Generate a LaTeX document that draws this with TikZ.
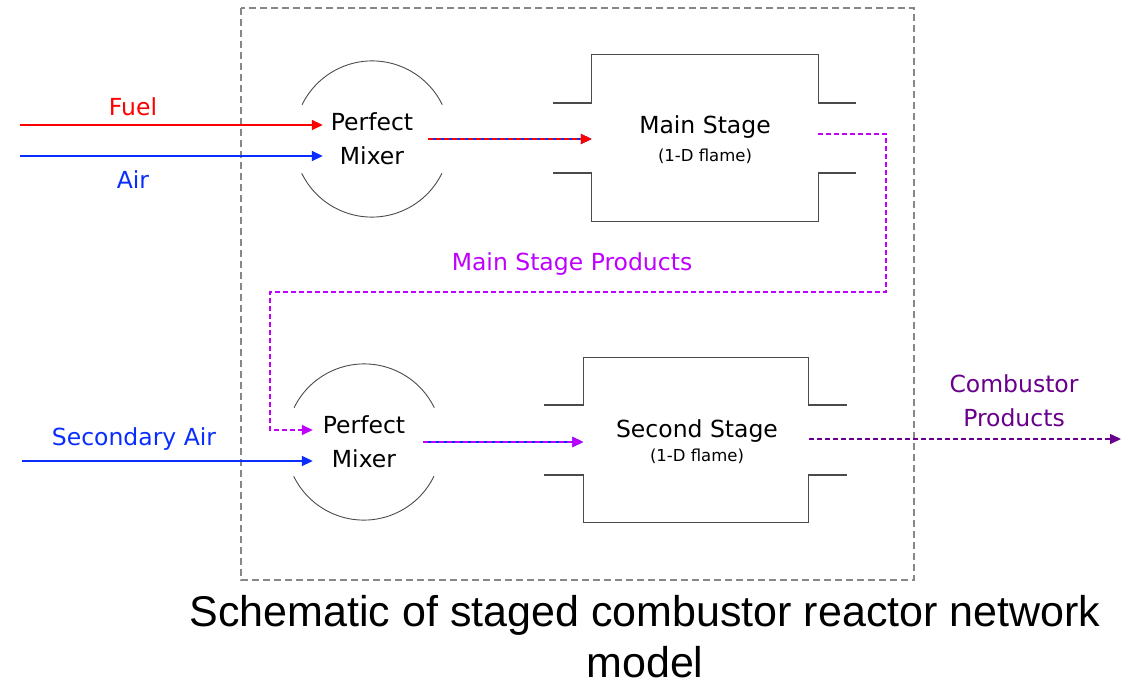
\documentclass[tikz,border=0pt]{standalone}
\usepackage{fontspec}
\setmainfont{DejaVu Sans}
\newfontfamily\capfont{Liberation Sans}
\usetikzlibrary{positioning,arrows.meta}
\definecolor{fuelred}{RGB}{255,0,0}
\definecolor{airblue}{RGB}{10,45,255}
\definecolor{prodviolet}{RGB}{190,0,255}
\definecolor{outpurple}{RGB}{105,0,140}
\definecolor{framegray}{RGB}{135,135,135}
\definecolor{wallgray}{RGB}{75,75,75}
\tikzset{
  flow/.style={-{Triangle[length=11pt,width=10pt]},line width=1.8pt},
  dashflow/.style={flow,dash pattern=on 5pt off 3pt},
  lbl/.style={font=\fontsize{23.5}{34}\selectfont,inner sep=0pt},
  sublbl/.style={font=\fontsize{16.5}{18}\selectfont,inner sep=0pt},
  caplbl/.style={font=\capfont\fontsize{43}{46}\selectfont,inner sep=0pt,anchor=base},
  wall/.style={wallgray,line width=1.3pt},
  mixer/.style={circle,minimum size=156pt,inner sep=0pt,align=center,lbl},
  stage/.style={rectangle,minimum width=226pt,minimum height=166pt,inner sep=0pt}
}
\begin{document}
\begin{tikzpicture}[x=1pt,y=1pt]
	\useasboundingbox (0,0) rectangle (1122,-687);
	\draw[framegray,line width=1.8pt,dash pattern=on 7pt off 4pt] (241,-8) rectangle (914,-580);
	% perfect mixers
	\pgfmathsetmacro{\rm}{78};
	\node[mixer] (mixA) at (372,-139) {Perfect\\Mixer};
	\node[mixer] (mixB) at (364,-442) {Perfect\\Mixer};
	\foreach \m in {mixA,mixB}{
		\draw[wallgray,line width=0.9pt] (\m.26) arc[start angle=26,end angle=154,radius=\rm];
		\draw[wallgray,line width=0.9pt] (\m.206) arc[start angle=206,end angle=334,radius=\rm];
	}
	% stages
	\node[stage] (mainS) at (705,-138) {};
	\node[lbl] (mainT) at (705,-127) {Main Stage};
	\node[sublbl] (mainF) at (705,-156) {(1-D flame)};
	\node[stage,minimum width=225pt,minimum height=165pt] (secS) at (696,-440) {};
	\node[lbl] (secT) at (697,-431) {Second Stage};
	\node[sublbl] (secF) at (697,-456) {(1-D flame)};
	\foreach \s in {mainS,secS}{
		\draw[wall] ([shift={(-39,35)}]\s.west) -| (\s.north west) -- (\s.north east) |- ([shift={(38,35)}]\s.east);
		\draw[wall] ([shift={(-39,-35)}]\s.west) -| (\s.south west) -- (\s.south east) |- ([shift={(38,-35)}]\s.east);
	}
	% inlets
	\coordinate (fuelIn) at (20,-125);
	\coordinate (airIn) at (20,-156);
	\coordinate (secIn) at (22,-461);
	\draw[flow,fuelred] (fuelIn) -- ([shift={(29,14)}]mixA.west);
	\draw[flow,airblue] (airIn) -- ([shift={(29,-17)}]mixA.west);
	\draw[flow,airblue] (secIn) -- ([shift={(27,-19)}]mixB.west);
	\node[lbl,fuelred] (fuelL) at (133,-107) {Fuel};
	\node[lbl,airblue] (airL) at (133,-180) {Air};
	\node[lbl,airblue] (secL) at (134,-439) {Secondary Air};
	% mixed streams
	\draw[flow,airblue] ([xshift=-22]mixA.east) -- (mixA.east -| mainS.west);
	\draw[dashflow,fuelred] ([xshift=-22]mixA.east) -- (mixA.east -| mainS.west);
	\draw[flow,airblue] ([xshift=-19]mixB.east) -- (mixB.east -| secS.west);
	\draw[dashflow,prodviolet] ([xshift=-19]mixB.east) -- (mixB.east -| secS.west);
	% main stage products
	\coordinate (turnA) at (886,-292);
	\coordinate (turnB) at (270,-292);
	\draw[dashflow,prodviolet,line width=1.5pt] ([yshift=4]mainS.east) -| (turnA) -- (turnB) |- ([shift={(27,12)}]mixB.west);
	\node[lbl,prodviolet] (prodL) at (572,-264) {Main Stage Products};
	% outlet
	\coordinate (outEnd) at (1121,-439);
	\draw[dashflow,outpurple,line width=1.5pt] (secS.east |- outEnd) -- (outEnd);
	\node[lbl,outpurple,align=center] (outL) at (1014,-401) {Combustor\\Products};
	% caption
	\node[caplbl] (capA) at (645,-626) {Schematic of staged combustor reactor network};
	\node[caplbl] (capB) at (645,-677) {model};
\end{tikzpicture}
\end{document}
